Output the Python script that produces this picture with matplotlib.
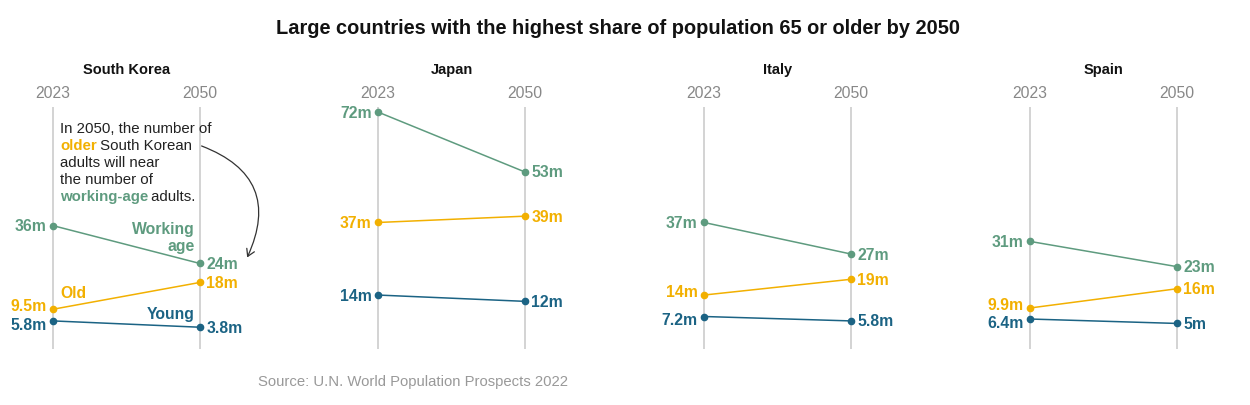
import numpy as np
import matplotlib.pyplot as plt
from matplotlib.patches import FancyArrowPatch

plt.rcParams['font.family'] = ['Liberation Sans', 'DejaVu Sans']

countries = ['South Korea', 'Japan', 'Italy', 'Spain']
years = ['2023', '2050']
working_2023 = [36, 72, 37, 31]
working_2050 = [24, 53, 27, 23]
old_2023 = [9.5, 37, 14, 9.9]
old_2050 = [18, 39, 19, 16]
young_2023 = [5.8, 14, 7.2, 6.4]
young_2050 = [3.8, 12, 5.8, 5]

GREEN = '#5e9b7f'
ORANGE = '#f2b001'
BLUE = '#1b6384'
GRID = '#cccccc'
W, H = 1250, 406


def fmt(v):
    return f"{v:g}m"


def px(x, y):
    # pixel position -> figure fraction
    return x / W, 1 - y / H


fig = plt.figure(figsize=(12.5, 4.06), dpi=100)

fig.text(*px(618, 29), 'Large countries with the highest share of population 65 or older by 2050',
         ha='center', va='center', fontsize=14.4, fontweight='bold', color='#121212')

line_x = [53, 378, 704, 1030]
gap = 147
pad = 60
top, bottom = 108, 350
ymax, ymin = 73.6, -3.1

axes = []
for i, c in enumerate(countries):
    left = (line_x[i] - pad) / W
    ax = fig.add_axes([left, (H - bottom) / H, (gap + 2 * pad) / W, (bottom - top) / H])
    ax.set_xlim(-pad / gap, 1 + pad / gap)
    ax.set_ylim(ymin, ymax)
    ax.axis('off')
    for xv in (0, 1):
        ax.axvline(xv, color=GRID, lw=1.2, zorder=0)
    for xv, yr in zip((0, 1), years):
        fig.text(*px(line_x[i] + xv * gap, 93), yr, ha='center', va='center',
                 fontsize=11.3, color='#888888')
    fig.text(*px(line_x[i] + gap / 2, 70), c, ha='center', va='center',
             fontsize=10.5, fontweight='bold', color='#121212')

    series = [(working_2023[i], working_2050[i], GREEN),
              (old_2023[i], old_2050[i], ORANGE),
              (young_2023[i], young_2050[i], BLUE)]
    for a, b, col in series:
        ax.plot([0, 1], [a, b], color=col, lw=1.1, marker='o', ms=4.5, zorder=3)

    # nudge labels of old / young apart when they sit close
    dl = 2.5 if old_2023[i] - young_2023[i] < 8 else 0
    dr = 2.5 if old_2050[i] - young_2050[i] < 8 else 0
    offs_l = [0, dl, -dl]
    offs_r = [0, dr, -dr]
    for k, (a, b, col) in enumerate(series):
        ax.annotate(fmt(a), (0, a), xytext=(-4.5, offs_l[k]), textcoords='offset points',
                    ha='right', va='center', fontsize=11.3, fontweight='bold', color=col)
        ax.annotate(fmt(b), (1, b), xytext=(4.5, offs_r[k]), textcoords='offset points',
                    ha='left', va='center', fontsize=11.3, fontweight='bold', color=col)
    axes.append(ax)

# South Korea labels and note
fig.text(*px(195, 230), 'Working', ha='right', va='center', fontsize=11.3, fontweight='bold', color=GREEN)
fig.text(*px(195, 247), 'age', ha='right', va='center', fontsize=11.3, fontweight='bold', color=GREEN)
fig.text(*px(60, 294), 'Old', ha='left', va='center', fontsize=11.3, fontweight='bold', color=ORANGE)
fig.text(*px(195, 315), 'Young', ha='right', va='center', fontsize=11.3, fontweight='bold', color=BLUE)

note = [[('In 2050, the number of', '#222222', 'normal')],
        [('older', ORANGE, 'bold'), (' South Korean', '#222222', 'normal')],
        [('adults will near', '#222222', 'normal')],
        [('the number of', '#222222', 'normal')],
        [('working-age', GREEN, 'bold'), (' adults.', '#222222', 'normal')]]
fig.canvas.draw()
rend = fig.canvas.get_renderer()
for j, parts in enumerate(note):
    x = 60
    y = 129 + j * 17
    for txt, col, wt in parts:
        t = fig.text(*px(x, y), txt, ha='left', va='center', fontsize=10.8,
                     fontweight=wt, color=col)
        x += t.get_window_extent(rend).width - 1

arrow = FancyArrowPatch(px(199, 146), px(246, 261), transform=fig.transFigure,
                        connectionstyle='arc3,rad=-0.55', arrowstyle='->,head_length=5,head_width=3',
                        color='#333333', lw=0.9)
fig.patches.append(arrow)

fig.text(*px(258, 382), 'Source: U.N. World Population Prospects 2022', ha='left', va='center',
         fontsize=10.7, color='#999999')

fig.savefig('out.png', dpi=100, facecolor='white')
